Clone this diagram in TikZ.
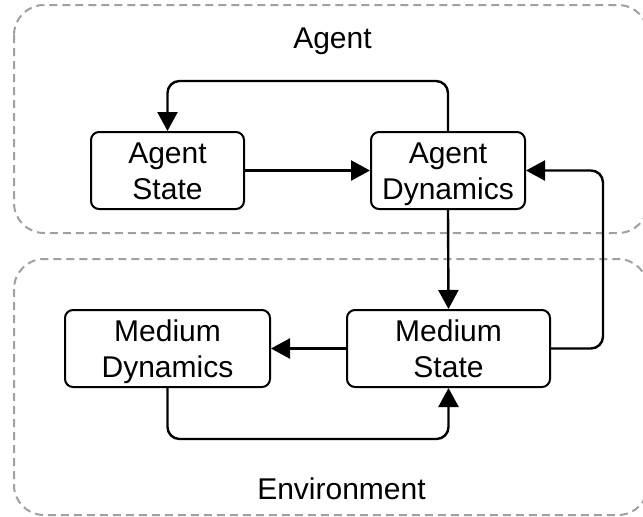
\documentclass[tikz,border=0pt]{standalone}
\usepackage{fontspec}
\setmainfont{Liberation Sans}
\usetikzlibrary{arrows.meta}
\definecolor{grpline}{HTML}{A0A0A0}
% line strut that sets the text slightly below the box centre
\newcommand\lnstrut{\rule[-7.2pt]{0pt}{36pt}}
\tikzset{
  grp/.style={draw=grpline, line width=2pt, dash pattern=on 8pt off 5pt, rounded corners=30pt},
  block/.style={draw, line width=2pt, rounded corners=8pt, fill=white, align=center,
    minimum height=77pt, inner sep=0pt,
    font=\fontsize{30}{36}\selectfont},
  label/.style={font=\fontsize{30}{36}\selectfont, inner sep=0pt, anchor=base},
  flow/.style={line width=2.4pt, rounded corners=12pt, -{Triangle[length=19pt,width=20pt]}}
}
\begin{document}
\begin{tikzpicture}[x=1pt,y=-1pt]
  \useasboundingbox (0,0) rectangle (643,517);
  \clip (0,0) rectangle (643,517);

  % group frames
  \draw[grp] (14,5) rectangle (648,233);
  \draw[grp] (14,259) rectangle (648,515);
  \node[label] (agentlbl) at (332.5,48) {Agent};
  \node[label] (envlbl) at (341.5,499) {Environment};

  % blocks
  \node[block, minimum width=153pt] (as) at (167.5,170.5) {\lnstrut Agent\\State\lnstrut};
  \node[block, minimum width=154pt] (ad) at (448,170.5) {\lnstrut Agent\\Dynamics\lnstrut};
  \node[block, minimum width=205pt] (md) at (167.5,348.5) {\lnstrut Medium\\Dynamics\lnstrut};
  \node[block, minimum width=203pt] (ms) at (448.5,348.5) {\lnstrut Medium\\State\lnstrut};

  % connectors
  \draw[flow] (ad.north) -- ++(0,-50) -| (as.north);
  \draw[flow] (as.east) -- (ad.west);
  \draw[flow] (ad.south) -- (ms.north);
  \draw[flow] (ms.east) -- ++(52,0) |- (ad.east);
  \draw[flow] (ms.west) -- (md.east);
  \draw[flow] (md.south) -- ++(0,51) -| (ms.south);
\end{tikzpicture}
\end{document}
